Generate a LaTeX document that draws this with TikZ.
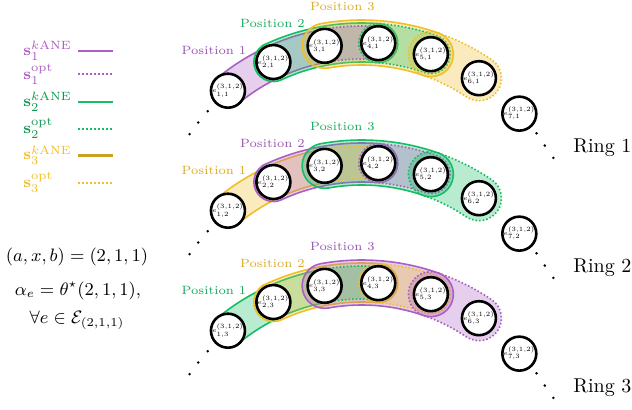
\documentclass[tikz,border=0pt]{standalone}
\usepackage{graphicx}
\usepackage{amsmath,amssymb}
\usetikzlibrary{positioning}

\definecolor{spurple}{RGB}{170,95,195}
\definecolor{sgreen}{RGB}{20,190,100}
\definecolor{syellow}{RGB}{240,190,40}

% band along the ring: start angle, end angle, half width
\newcommand{\bandpath}[3]{({#1}:{210+#3}) arc[start angle={#1}, end angle={#2}, radius={210+#3}] arc[start angle={#2}, end angle={#2-180}, radius={#3}] arc[start angle={#2}, end angle={#1}, radius={210-#3}] arc[start angle={#1+180}, end angle={#1}, radius={#3}] -- cycle}
\newcommand{\elabel}[2]{\scalebox{0.65}{$e^{(3,1,2)}_{#1,#2}$}}

\tikzset{
  elem/.style={circle, draw=black, line width=1.3pt, fill=white, minimum size=12pt, inner sep=0pt, font=\tiny},
  kane/.style={draw=#1, fill=#1, fill opacity=0.3, line width=0.8pt},
  opt/.style={draw=#1, fill=#1, fill opacity=0.3, line width=0.8pt, densely dotted},
  poslabel/.style={font=\fontsize{6}{7}\selectfont, text=#1},
  legtext/.style={anchor=west, inner sep=0pt, font=\footnotesize, text=#1}
}

\begin{document}
\begin{tikzpicture}[x=0.5pt, y=0.5pt]
\useasboundingbox (0,0) rectangle (632,409);

% legend
\node[legtext=spurple] (leg1) at (23,358.3) {$\mathbf{s}_1^{k\mathrm{ANE}}$};
\node[legtext=spurple] (leg2) at (23,334.7) {$\mathbf{s}_1^{\mathrm{opt}}$};
\node[legtext=sgreen!80!black] (leg3) at (23,307.3) {$\mathbf{s}_2^{k\mathrm{ANE}}$};
\node[legtext=sgreen!80!black] (leg4) at (23,280.3) {$\mathbf{s}_2^{\mathrm{opt}}$};
\node[legtext=syellow] (leg5) at (23,253.7) {$\mathbf{s}_3^{k\mathrm{ANE}}$};
\node[legtext=syellow] (leg6) at (23,226.3) {$\mathbf{s}_3^{\mathrm{opt}}$};
\draw[spurple, line width=1pt] (78,358.3) -- (113,358.3);
\draw[spurple, line width=1pt, densely dotted] (78,334.7) -- (113,334.7);
\draw[sgreen, line width=1pt] (78,307.3) -- (113,307.3);
\draw[sgreen, line width=1pt, densely dotted] (78,280.3) -- (113,280.3);
\draw[syellow!85!black, line width=1.2pt] (78,253.7) -- (113,253.7);
\draw[syellow, line width=1pt, densely dotted] (78,226.3) -- (113,226.3);

% chosen action
\node[font=\small] (axb) at (77,152) {$(a,x,b) = (2,1,1)$};
\node[font=\small] (alpha) at (78,118) {$\alpha_e = \theta^{\star}(2,1,1),$};
\node[font=\small] (forall) at (77,89) {$\forall e \in \mathcal{E}_{(2,1,1)}$};

% rings
\foreach \ri/\ca/\cb/\cc in {1/spurple/sgreen/syellow, 2/syellow/spurple/sgreen, 3/sgreen/syellow/spurple} {
\begin{scope}[shift={(361.8,{156.5-120*(\ri-1)})}]
  \path[kane=\ca] \bandpath{129.6}{100.2}{16.5};
  \path[kane=\cb] \bandpath{114.9}{85.5}{19.5};
  \path[kane=\cc] \bandpath{100.2}{70.8}{22.5};
  \path[opt=\ca] \bandpath{100.2}{85.5}{16.5};
  \path[opt=\cb] \bandpath{85.5}{70.8}{19.5};
  \path[opt=\cc] \bandpath{70.8}{56.1}{22.5};
  \foreach \idx in {1,...,7}
    \node[elem] (e\idx-\ri) at ({129.6-14.7*(\idx-1)}:210) {\elabel{\idx}{\ri}};
  \foreach \a in {137.5,141.5,145.5}
    \fill (\a:209) circle (1.4);
  \foreach \a/\rad in {34.3/211.6,30.3/212,26.3/213.7}
    \fill (\a:\rad) circle (1.4);
  \node[poslabel=\ca!90!black] (pos1-\ri) at (-147.8,202.5) {Position 1};
  \node[poslabel=\cb!90!black] (pos2-\ri) at (-89.3,229.5) {Position 2};
  \node[poslabel=\cc!90!black] (pos3-\ri) at (-19.3,245.5) {Position 3};
  \node[anchor=west, inner sep=0pt] (ring\ri) at (211.2,104.5) {Ring \ri};
\end{scope}
}
\end{tikzpicture}
\end{document}
